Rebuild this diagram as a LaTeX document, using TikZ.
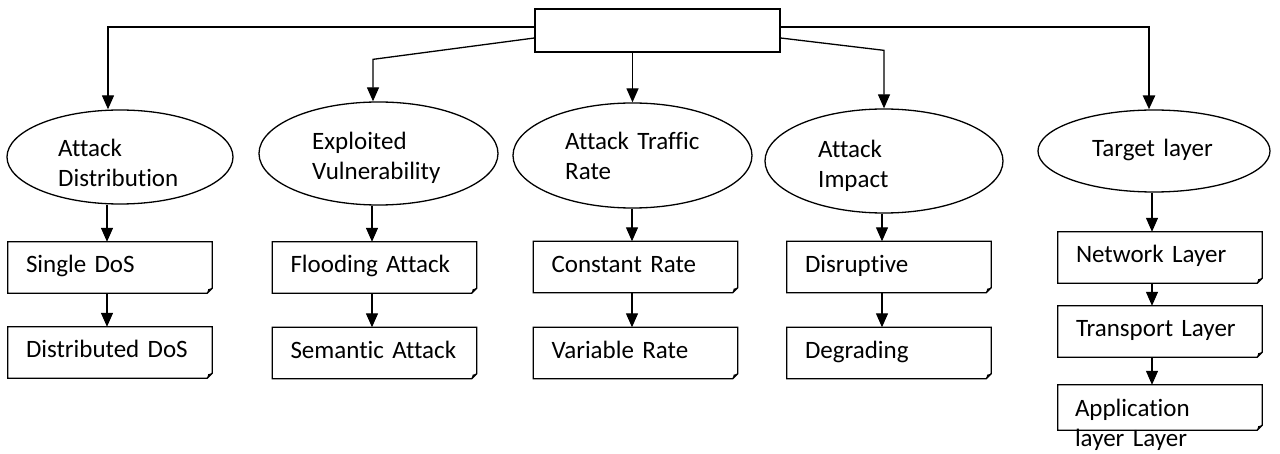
\documentclass[tikz,border=0pt]{standalone}
\usepackage{fontspec}
\setmainfont{Carlito}[Ligatures=CommonOff]
\usetikzlibrary{shapes.geometric,arrows.meta}
\newcommand{\dgfont}{\fontsize{25}{30}\selectfont\spaceskip=3.2pt plus 1pt\relax}
\begin{document}
\begin{tikzpicture}[x=1pt,y=-1pt,
  lbl/.style={font=\dgfont, inner sep=0pt, align=left, text width=180pt, anchor=base west},
  ell/.style={ellipse, draw, line width=1.3pt, inner sep=0pt},
  box/.style={rectangle, inner xsep=18pt, inner ysep=0pt, text width=168pt, align=left,
    text height=16pt, text depth=5pt, minimum height=51pt, font=\dgfont},
  arr/.style={line width=1.3pt, -{Triangle[length=14pt,width=12pt]}},
  thk/.style={line width=2.8pt},
  thkarr/.style={line width=2.6pt, -{Triangle[length=14pt,width=12pt]}},
  outl/.style={line width=1.3pt, line join=miter},
]
\useasboundingbox (0,0) rectangle (1280,454);

% top box
\node[draw, line width=1.3pt, minimum width=245pt, minimum height=43pt, inner sep=0pt] (top) at (657.5,30.5) {};

% ellipses
\node[ell, minimum width=226pt, minimum height=94pt] (e1) at (120,157) {};
\node[ell, minimum width=239pt, minimum height=103pt] (e2) at (378.5,153.5) {};
\node[ell, minimum width=239pt, minimum height=105pt] (e3) at (632.5,155.5) {};
\node[ell, minimum width=238pt, minimum height=104pt] (e4) at (884,161) {};
\node[ell, minimum width=232pt, minimum height=82pt] (e5) at (1154,151) {};

\node[lbl] (t1) at (58,157) {Attack\\Distribution};
\node[lbl] (t2) at (312,150) {Exploited\\Vulnerability};
\node[lbl] (t3) at (565,150) {Attack Traffic\\Rate};
\node[lbl] (t4) at (818,158) {Attack\\Impact};
\node[lbl] (t5) at (1092,157) {Target layer};

% boxes
\node[box] (s1) at (110,267.5) {Single DoS};
\node[box] (s2) at (110,352.5) {Distributed DoS};
\node[box] (f1) at (374.5,267.5) {Flooding Attack};
\node[box] (f2) at (374.5,353) {Semantic Attack};
\node[box] (c1) at (635.5,267) {Constant Rate};
\node[box] (c2) at (635.5,353) {Variable Rate};
\node[box] (d1) at (889,267) {Disruptive};
\node[box] (d2) at (889,353) {Degrading};
\node[box] (n1) at (1160,257.5) {Network Layer};
\node[box] (n2) at (1160,331.5) {Transport Layer};
\node[box, minimum height=45pt] (n3) at (1160,407.5) {};
\node[lbl, anchor=base west] (n3t) at ([xshift=17pt,yshift=-32pt]n3.north west) {Application\\layer Layer};

\foreach \n in {s1,s2,f1,f2,c1,c2,d1,d2,n1,n2,n3}{
  \draw[outl] (\n.north west) -- (\n.north east) -- ([yshift=5pt]\n.south east)
     -- ([xshift=-5pt]\n.south east) -- (\n.south west) -- cycle;
  \fill ([yshift=5pt]\n.south east) -- ([xshift=-5pt]\n.south east)
     -- ([xshift=-4pt,yshift=4pt]\n.south east) -- cycle;
}

% connectors from top box
\coordinate (k1e) at ([xshift=-12pt]e1.north);
\coordinate (k1s) at ([yshift=3.5pt]top.west);
\coordinate (k1) at (k1s -| k1e);
\draw[thk] (k1s) -- ([xshift=-1.4pt]k1);
\draw[arr] (k1) -- (k1e);
\draw[arr] ([yshift=-7.5pt]top.west) -- ([xshift=-5.5pt,yshift=42pt]e2.north) -- ([xshift=-5.5pt]e2.north);
\draw[arr] (top.south -| e3.north) -- (e3.north);
\draw[arr] ([yshift=-7.5pt]top.east) -- ([yshift=58pt]e4.north) -- (e4.north);
\coordinate (k5e) at ([xshift=-5pt]e5.north);
\draw[thkarr] ([yshift=3.5pt]top.east) -| (k5e);

% ellipse to boxes
\draw[arr] ([xshift=-3pt]s1.north |- e1.south) -- ([xshift=-3pt]s1.north);
\draw[arr] ([xshift=-2.5pt]f1.north |- e2.south) -- ([xshift=-2.5pt]f1.north);
\draw[arr] ([xshift=-3.5pt]c1.north |- e3.south) -- ([xshift=-3.5pt]c1.north);
\draw[arr] ([xshift=-7pt]d1.north |- e4.south) -- ([xshift=-7pt]d1.north);
\draw[arr] ([xshift=-8pt]n1.north |- e5.south) -- ([xshift=-8pt]n1.north);

% box to box
\draw[arr] ([xshift=-3pt]s1.south) -- ([xshift=-3pt]s2.north);
\draw[arr] ([xshift=-2.5pt]f1.south) -- ([xshift=-2.5pt]f2.north);
\draw[arr] ([xshift=-3.5pt]c1.south) -- ([xshift=-3.5pt]c2.north);
\draw[arr] ([xshift=-7pt]d1.south) -- ([xshift=-7pt]d2.north);
\draw[arr] ([xshift=-8pt]n1.south) -- ([xshift=-8pt]n2.north);
\draw[arr] ([xshift=-8pt]n2.south) -- ([xshift=-8pt]n3.north);
\end{tikzpicture}
\end{document}
